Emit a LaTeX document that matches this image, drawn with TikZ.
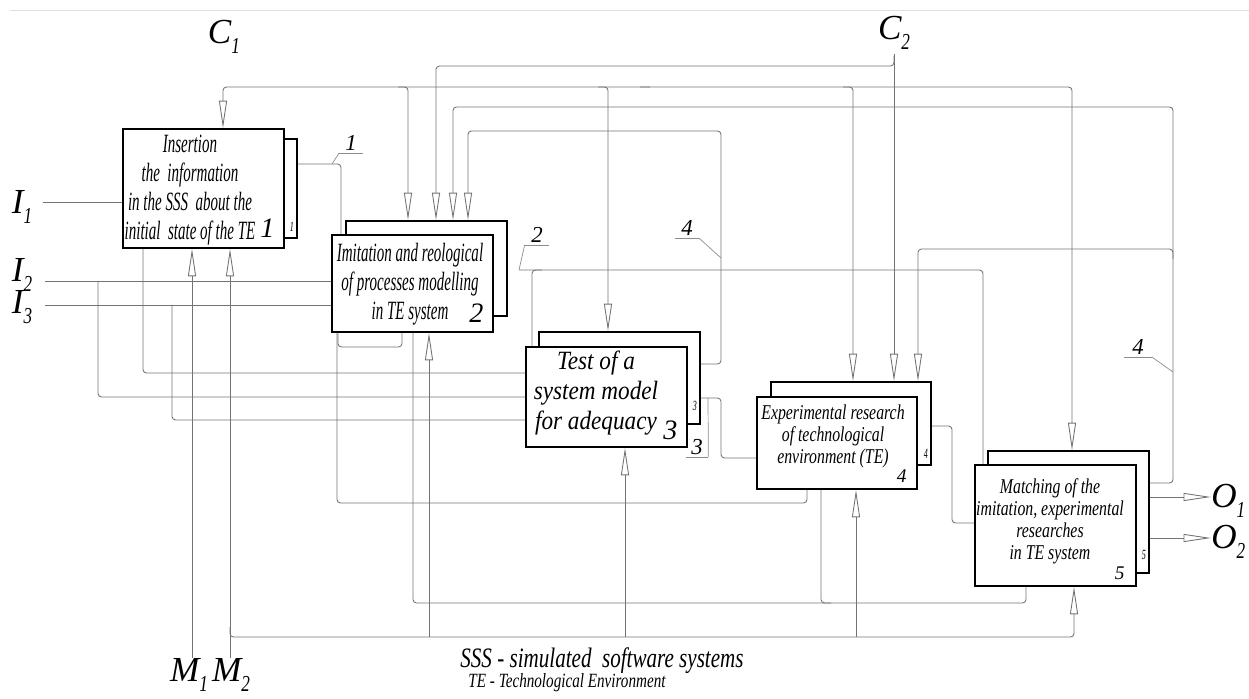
\documentclass[tikz,border=0pt]{standalone}
\usepackage{fontspec}
\setmainfont{Liberation Serif}
\newfontfamily\narrowfont[FakeStretch=0.57]{Liberation Serif}
\newfontfamily\midfont[FakeStretch=0.75]{Liberation Serif}
\newfontfamily\testfont[FakeStretch=0.88]{Liberation Serif}
\usetikzlibrary{arrows.meta}

\newcommand{\portlab}[2]{#1\raisebox{-0.3em}{\fontsize{13}{13}\selectfont\midfont\itshape #2}}

\tikzset{
  block/.style={draw, line width=0.9pt, fill=white, inner sep=0pt},
  link/.style={draw=black!55, line width=0.5pt, rounded corners=2pt},
  feed/.style={link, -{Triangle[open,length=5.5mm,width=1.6mm]}},
  boxtext/.style={font=\narrowfont\itshape\fontsize{15}{16.5}\selectfont, align=center, inner sep=0pt},
  smalltext/.style={font=\midfont\itshape\fontsize{12}{12.5}\selectfont, align=center, inner sep=0pt},
  num/.style={font=\itshape\fontsize{16}{16}\selectfont, inner sep=0pt},
  smallnum/.style={font=\itshape\fontsize{11}{11}\selectfont, inner sep=0pt},
  tag/.style={font=\narrowfont\itshape\fontsize{8}{8}\selectfont, inner sep=0pt},
  port/.style={font=\itshape\fontsize{20}{20}\selectfont, inner sep=0pt},
  lbl/.style={font=\itshape\fontsize{13}{13}\selectfont, inner sep=1pt, anchor=south},
  lead/.style={draw=black!45, line width=0.4pt}
}

\begin{document}
\begin{tikzpicture}[x=0.02cm, y=-0.02cm]
\useasboundingbox (0,0) rectangle (1249,699);

% faint frame line
\draw[black!12, line width=0.4pt] (10,10) -- (1249,10);

% blocks (back sheet first)
\node[block, minimum width=3.22cm, minimum height=1.98cm] (b1back) at (216.5,188.5) {};
\node[block, minimum width=3.22cm, minimum height=2.38cm] (b1) at (203.5,188.5) {};
\node[block, minimum width=3.22cm, minimum height=1.90cm] (b2back) at (426.5,268.5) {};
\node[block, minimum width=3.22cm, minimum height=1.94cm] (b2) at (412.5,283.5) {};
\node[block, minimum width=3.22cm, minimum height=1.84cm] (b3back) at (619.5,378) {};
\node[block, minimum width=3.22cm, minimum height=2.00cm] (b3) at (606.5,397) {};
\node[block, minimum width=3.20cm, minimum height=1.66cm] (b4back) at (851,423.5) {};
\node[block, minimum width=3.20cm, minimum height=1.84cm] (b4) at (837,443) {};
\node[block, minimum width=3.22cm, minimum height=2.44cm] (b5back) at (1068.5,512) {};
\node[block, minimum width=3.22cm, minimum height=2.42cm] (b5) at (1055.5,525.5) {};

% block texts
\node[boxtext] (t1) at (190,190) {Insertion\\the\ \ information\\in the SSS\ \ about the\\initial\ \ state of the TE};
\node[boxtext] (t2) at (410,284) {Imitation and reological\\of processes modelling\\in TE system};
\node[boxtext, font=\testfont\itshape\fontsize{15}{17}\selectfont] (t3) at (596,393) {Test of a\\system model\\for adequacy};
\node[smalltext] (t4) at (833,436) {Experimental research\\of technological\\environment (TE)};
\node[smalltext] (t5) at (1050,521) {Matching of the\\imitation, experimental\\researches\\in TE system};

% block numbers
\node[num, anchor=south east] (n1) at ([xshift=-0.2cm,yshift=0.22cm]b1.south east) {1};
\node[num, anchor=south east] (n2) at ([xshift=-0.2cm,yshift=0.2cm]b2.south east) {2};
\node[num, anchor=south east] (n3) at ([xshift=-0.2cm,yshift=0.16cm]b3.south east) {3};
\node[smallnum, anchor=south east] (n4) at ([xshift=-0.22cm,yshift=0.14cm]b4.south east) {4};
\node[smallnum, anchor=south east] (n5) at ([xshift=-0.24cm,yshift=0.14cm]b5.south east) {5};
\node[tag, anchor=south east] (s1) at ([xshift=-2pt,yshift=4pt]b1back.south east) {1};
\node[tag, anchor=south east] (s3) at ([xshift=-2pt,yshift=8pt]b3back.south east) {3};
\node[tag, anchor=south east] (s4) at ([xshift=-2pt,yshift=4pt]b4back.south east) {4};
\node[tag, anchor=south east] (s5) at ([xshift=-2pt,yshift=8pt]b5back.south east) {5};

% ports
\node[port] (c1) at (224,37) {\portlab{C}{1}};
\node[port] (c2) at (894,33) {\portlab{C}{2}};
\node[port] (i1) at (22,207) {\portlab{I}{1}};
\node[port] (i2) at (22,275) {\portlab{I}{2}};
\node[port] (i3) at (22,307) {\portlab{I}{3}};
\node[port] (m1) at (189,675) {\portlab{M}{1}};
\node[port] (m2) at (231,675) {\portlab{M}{2}};
\node[port, anchor=west] (o1) at (1211,501) {\portlab{O}{1}};
\node[port, anchor=west] (o2) at (1211,542) {\portlab{O}{2}};

\coordinate (i1s) at (43,202);
\coordinate (i2s) at (45,281);
\coordinate (i3s) at (45,305);
\coordinate (m1s) at (192,658);
\coordinate (m2s) at (230,658);
\coordinate (c2s) at (894,54);

% inputs
\draw[link] (i1s) -- (i1s -| b1.west);
\draw[link] (i2s) -- (i2s -| b2.west);
\draw[link] (i3s) -- (i3s -| b2.west);
\draw[link] (98,281) -- (98,397) -- (b3.west |- 0,397);
\draw[link] (172,305) -- (172,420) -- (b3.west |- 0,420);
\draw[link] (b1.south -| 143,0) -- (143,373) -- (b3.west |- 0,373);

% mechanisms
\draw[feed] (m1s) -- (m1s |- b1.south);
\draw[feed] (m2s) -- (m2s |- b1.south);
\draw[feed] (230,627) -- (230,637) -- (1074,637) -- (1074,0 |- b5.south);
\draw[feed] (429,637) -- (429,0 |- b2.south);
\draw[feed] (625,637) -- (625,0 |- b3.south);
\draw[feed] (856,637) -- (856,0 |- b4.south);

% controls C1
\draw[feed] (650,87) -- (223,87) -- (223,0 |- b1.north);
\draw[feed] (640,87) -- (1072,87) -- (1072,0 |- b5back.north);
\draw[feed] (398,87) -- (408,87) -- (408,0 |- b2back.north);
\draw[feed] (598,87) -- (608,87) -- (608,0 |- b3back.north);
\draw[feed] (843,87) -- (853,87) -- (853,0 |- b4back.north);

% controls C2
\draw[feed] (c2s) -- (894,0 |- b4back.north);
\draw[feed] (894,56) -- (894,66) -- (436,66) -- (436,0 |- b2back.north);

% feedback from block 5
\draw[feed] (b5back.east |- 0,483) -- (1173,483) -- (1173,107) -- (453,107) -- (453,0 |- b2back.north);
\draw[feed] (1173,259) -- (1173,249) -- (918,249) -- (918,0 |- b4back.north);

% feedback and output of block 3
\draw[feed] (b3back.east |- 0,364) -- (721,364) -- (721,131) -- (468,131) -- (468,0 |- b2back.north);
\draw[link] (b3back.east |- 0,398) -- (721,398) -- (721,458) -- (b4.west |- 0,458);

% outputs of blocks 1, 2, 4
\draw[link] (b1back.east |- 0,164) -- (341,164) -- (341,0 |- b2.north);
\draw[link] (519,270) -- (983,270) -- (983,0 |- b5.north);
\draw[link] (542,270) -- (532,270) -- (532,0 |- b3.north);
\draw[link] (b4back.east |- 0,426) -- (952,426) -- (952,523) -- (b5.west |- 0,523);

% returns under the blocks
\draw[link] (b2.south -| 337,0) -- (337,503) -- (807,503) -- (807,0 |- b4.south);
\draw[link] (b2.south -| 338,0) -- (338,347) -- (402,347) -- (402,0 |- b2.south);
\draw[link] (b2.south -| 413,0) -- (413,603) -- (1026,603) -- (1026,0 |- b5.south);
\draw[link] (b4.south -| 821,0) -- (821,603) -- (831,603);

% final outputs
\draw[feed] (b5back.east |- 0,497) -- (o1.west |- 0,497);
\draw[feed] (b5back.east |- 0,538) -- (o2.west |- 0,538);

% arrow labels with leaders
\node[lbl, minimum width=0.46cm] (l1) at (351,153) {1};
\draw[lead] (l1.south west) -- (l1.south east);
\draw[lead] (l1.south west) -- (332,164);
\node[lbl, minimum width=0.48cm] (l2) at (537,245) {2};
\draw[lead] (l2.south west) -- (l2.south east);
\draw[lead] (l2.south west) -- (519,270);
\node[lbl, minimum width=0.46cm] (l4) at (687,238) {4};
\draw[lead] (l4.south west) -- (l4.south east);
\draw[lead] (l4.south east) -- (721,258);
\node[lbl, minimum width=0.54cm] (l4b) at (1138,357) {4};
\draw[lead] (l4b.south west) -- (l4b.south east);
\draw[lead] (l4b.south east) -- (1173,372);
\node[lbl, minimum width=0.44cm] (l3) at (697,457) {3};
\draw[lead] (l3.south west) -- (l3.south east);
\draw[lead] (l3.south east) -- (708,398);

% legend
\node[font=\midfont\itshape\fontsize{16}{16}\selectfont, inner sep=0pt] (leg1) at (602,661) {SSS - simulated\ \ software systems};
\node[font=\midfont\itshape\fontsize{11.5}{11.5}\selectfont, inner sep=0pt] (leg2) at (567,683) {TE - Technological Environment};
\end{tikzpicture}
\end{document}
